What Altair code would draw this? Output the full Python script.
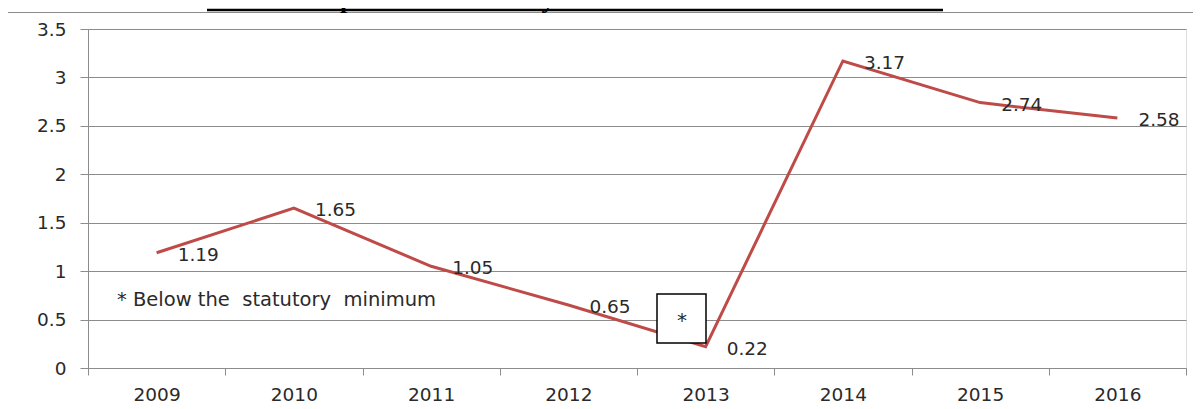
import altair as alt
import pandas as pd

years = ["2009", "2010", "2011", "2012", "2013", "2014", "2015", "2016"]
values = [1.19, 1.65, 1.05, 0.65, 0.22, 3.17, 2.74, 2.58]
y_ticks = [0, 0.5, 1, 1.5, 2, 2.5, 3, 3.5]
title_text = "Multiple of the Statutory Minimum Level of Reserves"
note_text = "* Below the\u00a0 statutory\u00a0 minimum"
box_text = "*"

df = pd.DataFrame({"year": years, "value": values})

FONT = "DejaVu Sans"
FS = 18.5
TXT = "#2a2a2a"
GRID = "#8c8c8c"
W, H = 1098, 339

x_enc = alt.X(
    "year:N", sort=None,
    scale=alt.Scale(type="band", paddingInner=0, paddingOuter=0),
    axis=alt.Axis(title=None, labelAngle=0, tickBand="extent", domainColor=GRID,
                  tickColor=GRID, tickSize=7, labelFont=FONT, labelFontSize=FS,
                  labelColor=TXT, labelPadding=10, grid=False),
)
y_enc = alt.Y(
    "value:Q",
    scale=alt.Scale(domain=[0, 3.5], nice=False, zero=True),
    axis=alt.Axis(title=None, values=y_ticks, format=".1~f", grid=True, gridColor=GRID,
                  gridWidth=1, domainColor=GRID, tickColor=GRID, tickSize=8,
                  labelFont=FONT, labelFontSize=FS, labelColor=TXT, labelPadding=14),
)

base = alt.Chart(df)

line = base.mark_line(color="#BE4B48", strokeWidth=3).encode(x=x_enc, y=y_enc)

labels = base.mark_text(align="left", baseline="middle", dx=21, dy=2, font=FONT,
                        fontSize=FS, color=TXT).encode(x=x_enc, y=y_enc, text="value:Q")

ann = pd.DataFrame({"t": [note_text]})
note = alt.Chart(ann).mark_text(align="left", baseline="middle", font=FONT, fontSize=19.5,
                                 color=TXT).encode(x=alt.value(29), y=alt.value(271), text="t:N")

box = alt.Chart(pd.DataFrame({"t": [box_text]})).mark_rect(
    fill="white", stroke="black", strokeWidth=1.5
).encode(x=alt.value(569), x2=alt.value(618), y=alt.value(265), y2=alt.value(314))

star = alt.Chart(pd.DataFrame({"t": [box_text]})).mark_text(
    align="center", baseline="middle", font=FONT, fontSize=20, color=TXT
).encode(x=alt.value(594), y=alt.value(292), text="t:N")

title = alt.Chart(pd.DataFrame({"t": [title_text]})).mark_text(
    align="center", baseline="alphabetic", font="Liberation Serif", fontWeight="bold",
    fontSize=26, color="black"
).encode(x=alt.value(487), y=alt.value(-21), text="t:N")

underline = alt.Chart(pd.DataFrame({"t": [title_text]})).mark_rule(
    color="black", strokeWidth=2.5
).encode(x=alt.value(119), x2=alt.value(855), y=alt.value(-19))

border_top = alt.Chart(pd.DataFrame({"t": [""]})).mark_rule(
    stroke=GRID, strokeWidth=1
).encode(x=alt.value(-80), x2=alt.value(1105), y=alt.value(-16.5))

chart = alt.layer(border_top, line, box, star, labels, note, title,
                  underline).properties(
    width=W, height=H,
    autosize=alt.AutoSizeParams(type="none"),
    padding={"left": 80, "top": 21, "right": 8, "bottom": 40},
).configure_view(stroke=None).configure(background="white")

chart.save("out.html", embed_options={"renderer": "svg", "actions": False})
